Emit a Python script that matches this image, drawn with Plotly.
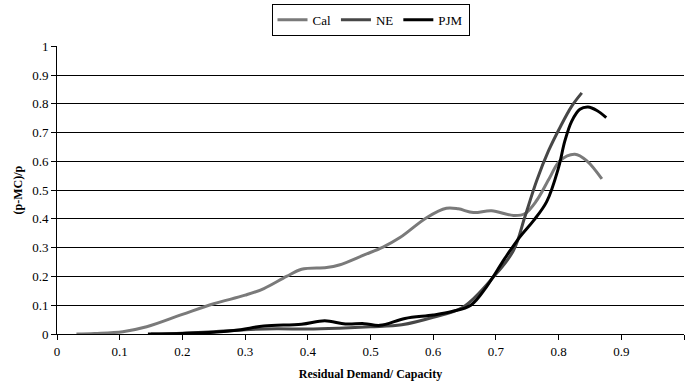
import plotly.graph_objects as go

cal_x = [0.031, 0.06, 0.105, 0.143, 0.2, 0.25, 0.3, 0.33, 0.366, 0.39, 0.43, 0.45, 0.49, 0.52, 0.547, 0.59, 0.621, 0.64, 0.664, 0.693, 0.728, 0.746, 0.765, 0.786, 0.802, 0.826, 0.845, 0.869]
cal_y = [0.0, 0.002, 0.008, 0.025, 0.068, 0.105, 0.135, 0.158, 0.2, 0.225, 0.231, 0.24, 0.275, 0.302, 0.335, 0.405, 0.437, 0.435, 0.422, 0.428, 0.412, 0.418, 0.464, 0.544, 0.602, 0.625, 0.602, 0.539]

ne_x = [0.15, 0.2, 0.25, 0.3, 0.35, 0.4, 0.45, 0.5, 0.55, 0.6, 0.648, 0.696, 0.728, 0.746, 0.765, 0.784, 0.802, 0.821, 0.837]
ne_y = [0.0, 0.003, 0.008, 0.015, 0.018, 0.017, 0.02, 0.025, 0.032, 0.058, 0.094, 0.198, 0.29, 0.406, 0.533, 0.637, 0.717, 0.792, 0.838]

pjm_x = [0.145, 0.2, 0.25, 0.29, 0.33, 0.39, 0.427, 0.46, 0.49, 0.515, 0.555, 0.6, 0.63, 0.66, 0.685, 0.714, 0.738, 0.76, 0.781, 0.8, 0.81, 0.821, 0.834, 0.847, 0.861, 0.876]
pjm_y = [0.0, 0.002, 0.006, 0.014, 0.028, 0.034, 0.046, 0.035, 0.036, 0.03, 0.054, 0.066, 0.078, 0.1, 0.164, 0.262, 0.337, 0.394, 0.46, 0.579, 0.671, 0.74, 0.781, 0.789, 0.777, 0.752]

x_ticks = [0, 0.1, 0.2, 0.3, 0.4, 0.5, 0.6, 0.7, 0.8, 0.9, 1]
x_labels = ["0", "0.1", "0.2", "0.3", "0.4", "0.5", "0.6", "0.7", "0.8", "0.9", "1"]
y_ticks = [0, 0.1, 0.2, 0.3, 0.4, 0.5, 0.6, 0.7, 0.8, 0.9, 1]
y_labels = ["0", "0.1", "0.2", "0.3", "0.4", "0.5", "0.6", "0.7", "0.8", "0.9", "1"]

font = "Liberation Serif, serif"

fig = go.Figure()
for name, xs, ys, col in [("Cal", cal_x, cal_y, "#7a7a7a"),
                          ("NE", ne_x, ne_y, "#474747"),
                          ("PJM", pjm_x, pjm_y, "#000000")]:
    fig.add_trace(go.Scatter(x=xs, y=ys, name=name, mode="lines",
                             line=dict(color=col, width=3, shape="spline", smoothing=1.0)))

fig.update_layout(
    width=687, height=383,
    margin=dict(l=57, r=3, t=45, b=49),
    paper_bgcolor="white", plot_bgcolor="white",
    font=dict(family=font, size=13, color="black"),
    showlegend=True,
    legend=dict(orientation="h", x=0.5, xref="paper", xanchor="center",
                y=0.99, yref="container", yanchor="top",
                bordercolor="black", borderwidth=1, bgcolor="white",
                font=dict(family=font, size=13), itemwidth=30,
                tracegroupgap=0),
    xaxis=dict(range=[0, 1], tickvals=x_ticks, ticktext=x_labels,
               showgrid=False, zeroline=False, showline=True, linecolor="black", linewidth=1,
               ticks="outside", ticklen=5, tickcolor="black",
               title=dict(text="<b>Residual Demand/ Capacity</b>", font=dict(family=font, size=12), standoff=12)),
    yaxis=dict(range=[0, 1], tickvals=y_ticks, ticktext=y_labels,
               showgrid=True, gridcolor="black", gridwidth=1, zeroline=False,
               showline=True, linecolor="black", linewidth=1,
               ticks="outside", ticklen=5, tickcolor="black",
               title=dict(text="<b>(p-MC)/p</b>", font=dict(family=font, size=12), standoff=6)),
)

fig.write_html("out.html")
